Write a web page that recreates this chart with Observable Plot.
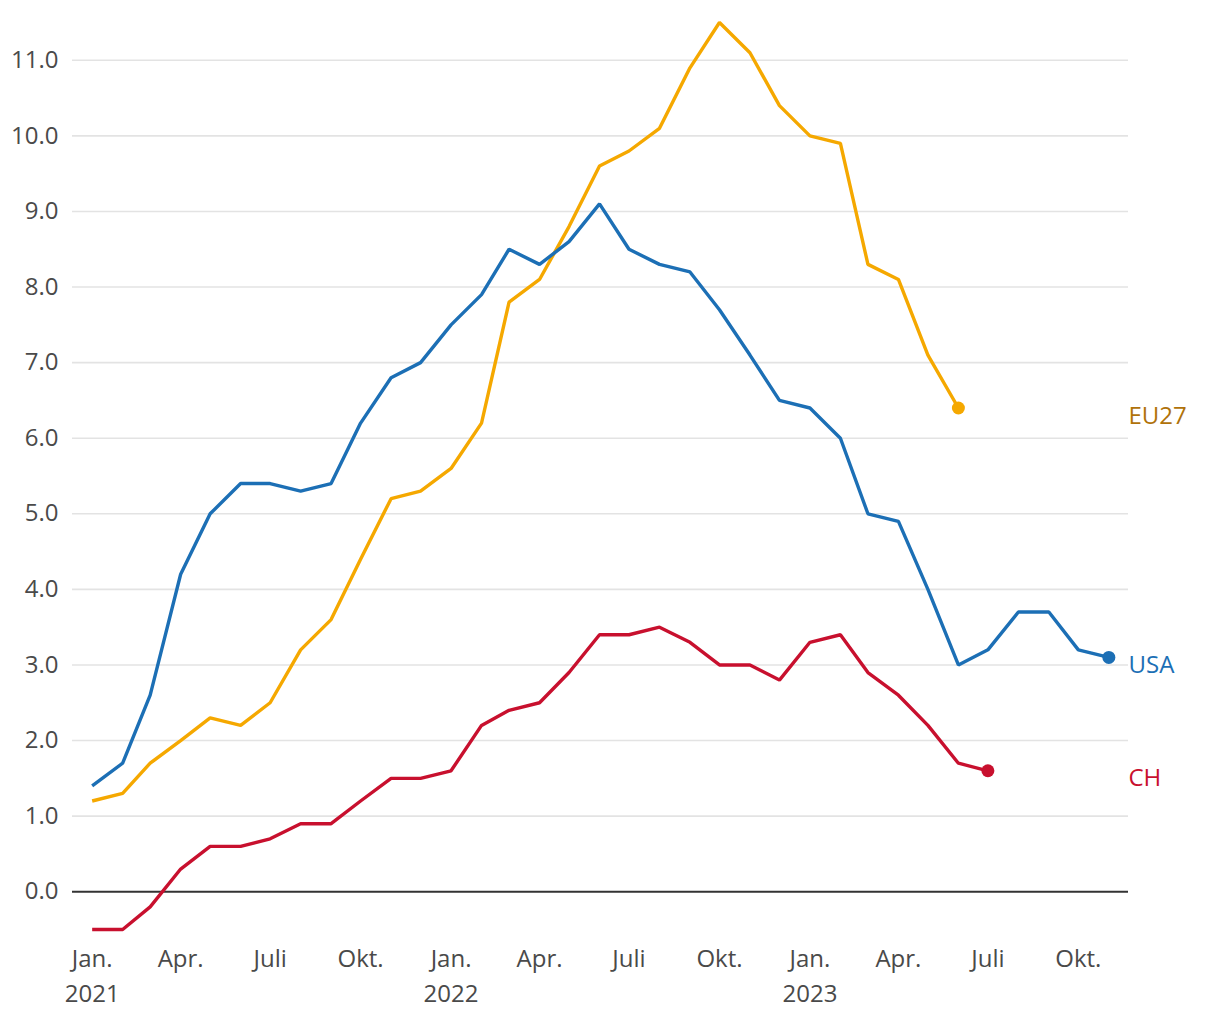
<!DOCTYPE html>
<html>
<head>
<meta charset="utf-8">
<script src="https://cdn.jsdelivr.net/npm/d3@7"></script>
<script src="https://cdn.jsdelivr.net/npm/@observablehq/plot@0.6"></script>
<style>
  html, body { margin: 0; padding: 0; background: #fff; }
  #chart svg { display: block; }
</style>
</head>
<body>
<div id="chart"></div>
<script>
// Months (first of each month), Jan 2021 – Nov 2023
const months = [
  "2021-01","2021-02","2021-03","2021-04","2021-05","2021-06","2021-07","2021-08","2021-09","2021-10","2021-11","2021-12",
  "2022-01","2022-02","2022-03","2022-04","2022-05","2022-06","2022-07","2022-08","2022-09","2022-10","2022-11","2022-12",
  "2023-01","2023-02","2023-03","2023-04","2023-05","2023-06","2023-07","2023-08","2023-09","2023-10","2023-11"
];
const usa = [1.4,1.7,2.6,4.2,5.0,5.4,5.4,5.3,5.4,6.2,6.8,7.0,
             7.5,7.9,8.5,8.3,8.6,9.1,8.5,8.3,8.2,7.7,7.1,6.5,
             6.4,6.0,5.0,4.9,4.0,3.0,3.2,3.7,3.7,3.2,3.1];
const eu27 = [1.2,1.3,1.7,2.0,2.3,2.2,2.5,3.2,3.6,4.4,5.2,5.3,
              5.6,6.2,7.8,8.1,8.8,9.6,9.8,10.1,10.9,11.5,11.1,10.4,
              10.0,9.9,8.3,8.1,7.1,6.4];
const ch = [-0.5,-0.5,-0.2,0.3,0.6,0.6,0.7,0.9,0.9,1.2,1.5,1.5,
            1.6,2.2,2.4,2.5,2.9,3.4,3.4,3.5,3.3,3.0,3.0,2.8,
            3.3,3.4,2.9,2.6,2.2,1.7,1.6];
const seriesNames = ["EU27", "USA", "CH"];
const lineColors = {EU27: "#f5a800", USA: "#1c6fb5", CH: "#c8102e"};
const labelColors = {EU27: "#b0720a", USA: "#1c6fb5", CH: "#c8102e"};
const yTicks = [0,1,2,3,4,5,6,7,8,9,10,11];
const xTickMonths = ["2021-01","2021-04","2021-07","2021-10","2022-01","2022-04","2022-07","2022-10","2023-01","2023-04","2023-07","2023-10"];
const monthNames = {0: "Jan.", 3: "Apr.", 6: "Juli", 9: "Okt."};

const parse = d3.utcParse("%Y-%m");
const valuesBySeries = {EU27: eu27, USA: usa, CH: ch};
const data = seriesNames.flatMap(name =>
  valuesBySeries[name].map((v, i) => ({series: name, date: parse(months[i]), value: v}))
);
const last = seriesNames.map(name => {
  const vals = valuesBySeries[name];
  return {series: name, date: parse(months[vals.length - 1]), value: vals[vals.length - 1]};
});
const xDomain = [new Date(Date.UTC(2020, 11, 12)), new Date(Date.UTC(2023, 10, 21))];

const font = "'Open Sans', 'Noto Sans', sans-serif";
const textColor = "#4a4a4a";

const chart = Plot.plot({
  width: 1220,
  height: 1020,
  marginLeft: 72,
  marginRight: 92,
  marginTop: 22,
  marginBottom: 91,
  style: {fontFamily: font, fontSize: "24px", fontWeight: 400, color: textColor, background: "#fff", overflow: "visible"},
  x: {type: "utc", domain: xDomain},
  y: {domain: [-0.5, 11.5]},
  marks: [
    Plot.gridY(yTicks.filter(d => d !== 0), {stroke: "#e3e3e3", strokeOpacity: 1, strokeWidth: 1.6}),
    Plot.ruleY([0], {stroke: "#333", strokeWidth: 2}),
    Plot.axisY(yTicks, {
      tickSize: 0, tickPadding: 14, tickFormat: d3.format(".1f"),
      fill: textColor, fontSize: 24, fontWeight: 400, label: null
    }),
    Plot.axisX(xTickMonths.map(parse), {
      tickSize: 0, tickPadding: 12, lineHeight: 1.48, fill: textColor, fontSize: 24, fontWeight: 400, label: null,
      tickFormat: d => monthNames[d.getUTCMonth()] + (d.getUTCMonth() === 0 ? "\n" + d.getUTCFullYear() : "")
    }),
    Plot.line(data, {
      x: "date", y: "value", z: "series",
      stroke: d => lineColors[d.series], strokeWidth: 3.4, strokeLinejoin: "miter", strokeLinecap: "butt"
    }),
    Plot.dot(last, {x: "date", y: "value", fill: d => lineColors[d.series], r: 6.5, stroke: "none"}),
    Plot.text(last, {
      x: () => xDomain[1], y: "value", text: "series",
      fill: d => labelColors[d.series], textAnchor: "start", dx: 0, dy: 8, fontSize: 24, fontWeight: 400
    })
  ]
});
document.getElementById("chart").appendChild(chart);
</script>
</body>
</html>
